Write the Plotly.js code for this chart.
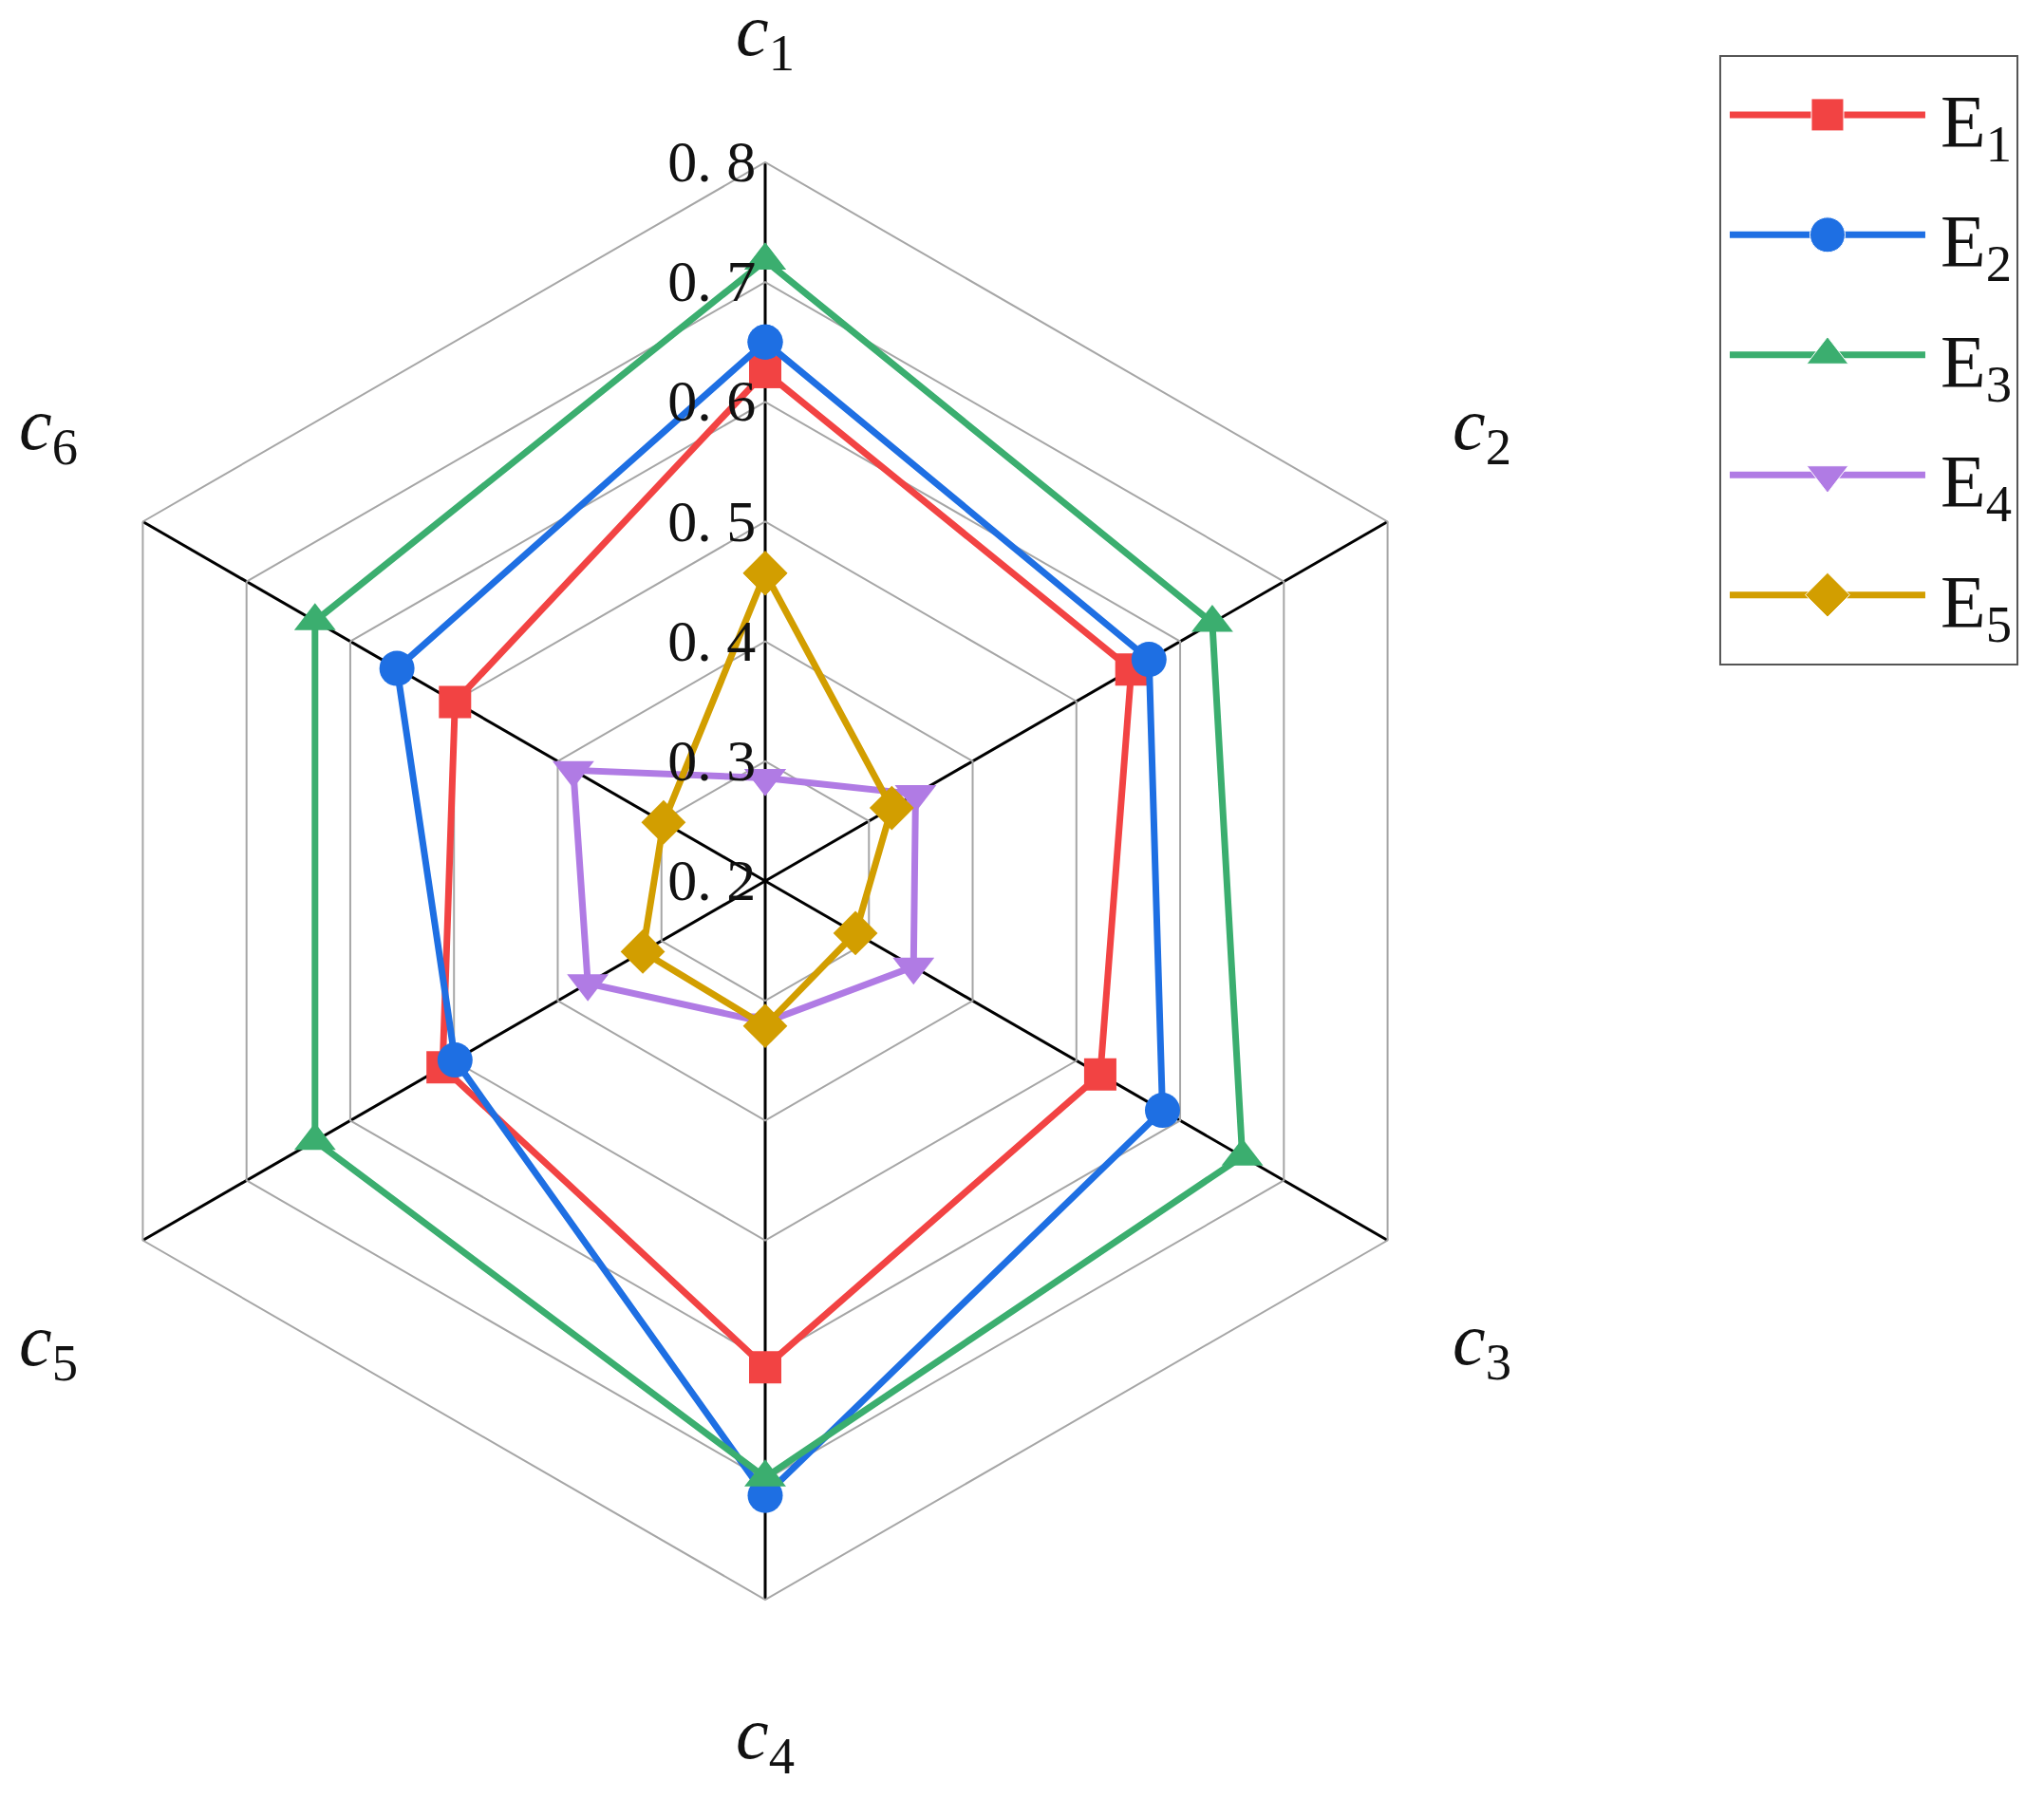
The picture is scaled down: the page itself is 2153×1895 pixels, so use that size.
<!DOCTYPE html>
<html>
<head>
<meta charset="utf-8">
<script src="https://cdn.plot.ly/plotly-3.0.1.min.js"></script>
<style>
html, body { margin: 0; padding: 0; background: #fff; }
#chart { width: 2153px; height: 1895px; }
</style>
</head>
<body>
<div id="chart"></div>
<script>
// criteria, clockwise from the top spoke
const criteria = ['c1', 'c2', 'c3', 'c4', 'c5', 'c6'];
const criteriaText = ['<i>c</i><sub>1</sub>', '<i>c</i><sub>2</sub>', '<i>c</i><sub>3</sub>',
                      '<i>c</i><sub>4</sub>', '<i>c</i><sub>5</sub>', '<i>c</i><sub>6</sub>'];

// one array per scheme, values
const seriesNames = ['E1', 'E2', 'E3', 'E4', 'E5'];
const seriesText = ['E<sub>1</sub>', 'E<sub>2</sub>', 'E<sub>3</sub>', 'E<sub>4</sub>', 'E<sub>5</sub>'];
const E1 = [0.625, 0.553, 0.523, 0.606, 0.511, 0.499];
const E2 = [0.650, 0.570, 0.583, 0.713, 0.499, 0.555];
const E3 = [0.718, 0.631, 0.660, 0.698, 0.634, 0.634];
const E4 = [0.286, 0.345, 0.343, 0.318, 0.371, 0.385];
const E5 = [0.457, 0.322, 0.287, 0.321, 0.318, 0.298];
const seriesValues = [E1, E2, E3, E4, E5];

const radialTicks = [0.2, 0.3, 0.4, 0.5, 0.6, 0.7, 0.8];
const radialTickText = ['0. 2', '0. 3', '0. 4', '0. 5', '0. 6', '0. 7', '0. 8'];

// styles
const W = 2153, H = 1895;
const colors = ['#F24343', '#1E6FE3', '#3BAE6F', '#B07BE4', '#D29E00'];
const symbols = ['square', 'circle', 'triangle-up', 'triangle-down', 'diamond'];
const sizes = [34, 37, 38, 38, 36];
const lineW = 7;
const serif = 'Liberation Serif, DejaVu Serif, serif';
const gridGray = '#A6A6A6';

// polar area: centre and outer radius in pixels
const cx = 806, cy = 928, R = 757;
const polarDomain = {
    x: [(cx - R) / W, (cx + R) / W],
    y: [1 - (cy + R) / H, 1 - (cy - R) / H]
};

let traces = [];

seriesValues.forEach((vals, i) => {
    traces.push({
        type: 'scatterpolar',
        r: vals.concat([vals[0]]),
        theta: criteria.concat([criteria[0]]),
        mode: 'lines+markers',
        name: seriesNames[i],
        line: { color: colors[i], width: lineW },
        marker: { color: colors[i], symbol: symbols[i], size: sizes[i], opacity: 1 },
        showlegend: false
    });
});

// hand-made legend in its own small cartesian box (long sample lines)
const legX = [0.032, 0.361, 0.690];
const legLabelX = 0.735;
seriesNames.forEach((name, i) => {
    traces.push({
        type: 'scatter',
        xaxis: 'x',
        yaxis: 'y',
        x: legX,
        y: [i + 1, i + 1, i + 1],
        mode: 'lines+markers',
        line: { color: colors[i], width: lineW },
        marker: { color: colors[i], symbol: symbols[i], size: [0, sizes[i], 0], opacity: 1 },
        showlegend: false,
        hoverinfo: 'skip'
    });
});

let annotations = seriesText.map((t, i) => ({
    xref: 'x', yref: 'y',
    x: legLabelX, y: i + 1,
    text: t,
    showarrow: false,
    xanchor: 'left',
    yanchor: 'middle',
    yshift: -12,
    font: { family: serif, size: 78, color: '#111' }
}));

// criterion labels outside the hexagon corners
criteriaText.forEach((t, i) => {
    const a = i * Math.PI / 3;
    const s = Math.sin(a), c = Math.cos(a);
    const onSide = Math.abs(s) > 0.5;
    const px = cx + R * s + (onSide ? Math.sign(s) * 99 : 0);
    const py = cy - R * c - Math.sign(c) * (onSide ? 104 : 140) + 6;
    annotations.push({
        xref: 'paper', yref: 'paper',
        x: px / W, y: 1 - py / H,
        text: t,
        showarrow: false,
        xanchor: 'center',
        yanchor: 'middle',
        font: { family: serif, size: 78, color: '#111' }
    });
});

const layout = {
    width: W,
    height: H,
    margin: { l: 0, r: 0, t: 0, b: 0 },
    paper_bgcolor: '#fff',
    plot_bgcolor: 'rgba(0,0,0,0)',
    showlegend: false,
    polar: {
        domain: polarDomain,
        bgcolor: '#fff',
        gridshape: 'linear',
        angularaxis: {
            type: 'category',
            rotation: 90,
            direction: 'clockwise',
            showticklabels: false,
            ticks: '',
            showgrid: true,
            gridcolor: '#000',
            gridwidth: 3,
            showline: true,
            linecolor: gridGray,
            linewidth: 2
        },
        radialaxis: {
            range: [0.2, 0.8],
            angle: 90,
            side: 'counterclockwise',
            tickangle: 90,
            tickmode: 'array',
            tickvals: radialTicks,
            ticktext: radialTickText,
            tickfont: { family: serif, size: 62, color: '#111' },
            ticks: '',
            showline: false,
            showgrid: true,
            gridcolor: gridGray,
            gridwidth: 2
        }
    },
    xaxis: {
        domain: [0.8416, 0.9870],
        range: [0, 1],
        visible: false,
        fixedrange: true
    },
    yaxis: {
        domain: [0.6306, 0.9689],
        range: [5.58, 0.51],
        visible: false,
        fixedrange: true
    },
    shapes: [{
        type: 'rect',
        xref: 'x domain', yref: 'y domain',
        x0: 0, x1: 1, y0: 0, y1: 1,
        line: { color: '#555', width: 2 },
        fillcolor: 'rgba(0,0,0,0)'
    }],
    annotations: annotations
};

Plotly.newPlot('chart', traces, layout, { staticPlot: true });
</script>
</body>
</html>
